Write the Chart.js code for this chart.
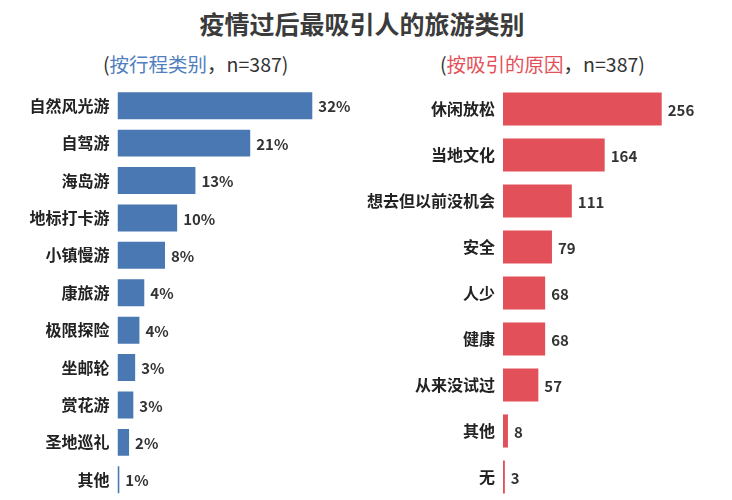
<!DOCTYPE html>
<html>
<head>
<meta charset="utf-8">
<script src="https://cdn.jsdelivr.net/npm/chart.js@4"></script>
<style>
    body { margin: 0; background: #fff; width: 732px; height: 500px; overflow: hidden; position: relative; font-family: "Noto Sans CJK SC", sans-serif; }
    #title { position: absolute; top: 5px; left: 0; width: 724px; text-align: center; font-size: 25px; font-weight: bold; color: #3b3b3b; }
    .sub { position: absolute; top: 49px; font-size: 19.5px; color: #333; white-space: nowrap; }
    #sub-left { left: 103px; }
    #sub-right { left: 440px; }
    .blue { color: #4f7fbf; }
    .red { color: #e4505a; }
    canvas { position: absolute; }
</style>
</head>
<body>
<div id="title">疫情过后最吸引人的旅游类别</div>
<div class="sub" id="sub-left">(<span class="blue">按行程类别</span>，n=387)</div>
<div class="sub" id="sub-right">(<span class="red">按吸引的原因</span>，n=387)</div>
<div style="position:absolute;left:0;top:80px;width:366px;height:420px"><canvas id="trip-type"></canvas></div>
<div style="position:absolute;left:366px;top:80px;width:366px;height:420px"><canvas id="reason"></canvas></div>
<script>
// 按行程类别 (share of respondents, %)
const tripCategories = ['自然风光游', '自驾游', '海岛游', '地标打卡游', '小镇慢游', '康旅游', '极限探险', '坐邮轮', '赏花游', '圣地巡礼', '其他'];
const tripShare = [32, 21.8, 12.8, 9.8, 7.8, 4.4, 3.6, 2.9, 2.6, 1.9, 0.3];
const tripShareLabels = ['32%', '21%', '13%', '10%', '8%', '4%', '4%', '3%', '3%', '2%', '1%'];

// 按吸引的原因 (respondents)
const reasonCategories = ['休闲放松', '当地文化', '想去但以前没机会', '安全', '人少', '健康', '从来没试过', '其他', '无'];
const reasonCounts = [256, 164, 111, 79, 68, 68, 57, 8, 3];

const font = "'Noto Sans CJK SC', sans-serif";

const valueLabels = {
    id: 'valueLabels',
    afterDatasetsDraw(chart, args, opts) {
        const ctx = chart.ctx;
        const meta = chart.getDatasetMeta(0);
        ctx.save();
        ctx.font = 'bold 15px ' + font;
        ctx.fillStyle = '#333';
        ctx.textBaseline = 'middle';
        ctx.textAlign = 'left';
        meta.data.forEach((bar, i) => {
            ctx.fillText(opts.labels[i], bar.x + 6, bar.y + 1);
        });
        ctx.restore();
    }
};

function barChart(el, labels, values, textLabels, color, max, axisWidth, padding) {
    return new Chart(el, {
        type: 'bar',
        data: {
            labels: labels,
            datasets: [{
                data: values,
                backgroundColor: color,
                barPercentage: 0.72,
                categoryPercentage: 1
            }]
        },
        options: {
            indexAxis: 'y',
            responsive: true,
            maintainAspectRatio: false,
            animation: false,
            layout: { padding: padding },
            plugins: {
                legend: { display: false },
                tooltip: { enabled: false },
                valueLabels: { labels: textLabels }
            },
            scales: {
                x: { display: false, min: 0, max: max },
                y: {
                    grid: { display: false, drawTicks: false },
                    border: { display: false },
                    ticks: {
                        padding: 8,
                        color: '#222',
                        font: { family: font, size: 16, weight: 'bold' }
                    },
                    afterFit: s => {
                        s.width = axisWidth;
                        s.paddingTop = 0;
                        s.paddingBottom = 0;
                    }
                }
            }
        },
        plugins: [valueLabels]
    });
}

barChart(document.getElementById('trip-type'), tripCategories, tripShare, tripShareLabels,
    '#4a78b2', 40, 117.5, { top: 7, bottom: 1.5, left: 0, right: 5 });
barChart(document.getElementById('reason'), reasonCategories, reasonCounts, reasonCounts.map(String),
    '#e2515a', 350, 137, { top: 6, bottom: 0, left: 0, right: 12 });
</script>
</body>
</html>
